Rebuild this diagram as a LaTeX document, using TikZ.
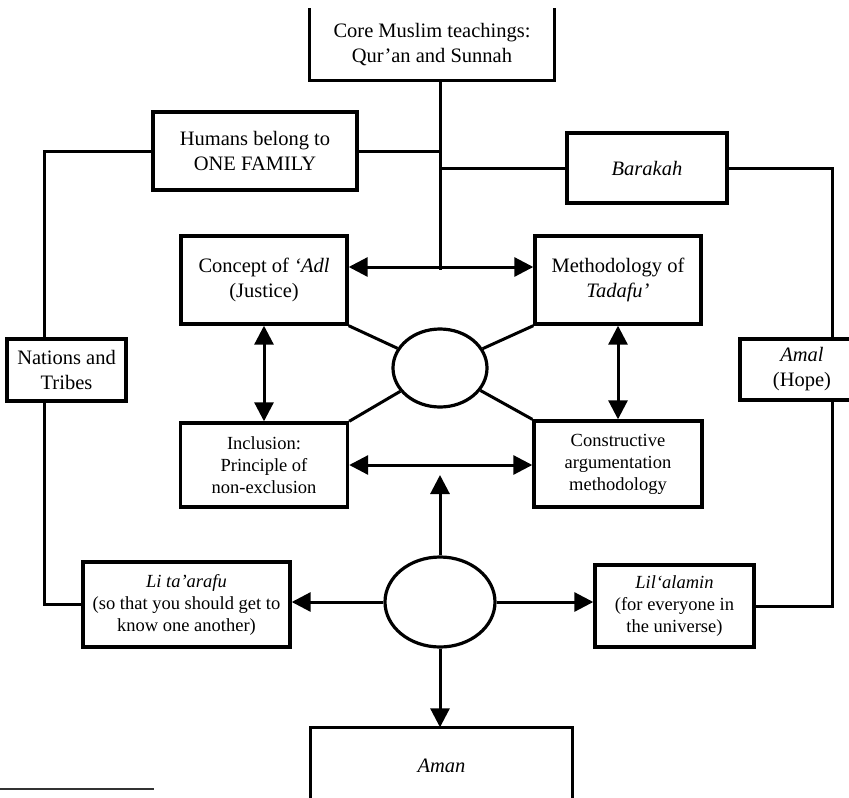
\documentclass[tikz,border=0pt]{standalone}
\usepackage{fontspec}
\setmainfont{Liberation Serif}
\usepackage{tikz}
\usetikzlibrary{arrows.meta}
\usetikzlibrary{shapes.geometric}

\begin{document}
\begin{tikzpicture}[x=1pt, y=-1pt,
	box/.style={line width=3.4pt, align=center, inner sep=0pt, font=\fontsize{20.5}{25}\selectfont},
	smallbox/.style={box, font=\fontsize{18.5}{22}\selectfont},
	oval/.style={draw, ellipse, line width=3.2pt, inner sep=0pt},
	link/.style={line width=3pt},
	arr/.style={link, -{Triangle[length=19pt,width=19pt]}},
	darr/.style={link, {Triangle[length=19pt,width=19pt]}-{Triangle[length=19pt,width=19pt]}}]

	\useasboundingbox (0,0) rectangle (849,798);

	% Boxes top
	\node[box, minimum width=242pt, minimum height=69pt] (core) at (432,44.5) {Core Muslim teachings:\\Qur’an and Sunnah};
	\node[box, draw, minimum width=204pt, minimum height=78pt] (family) at (255,151) {Humans belong to\\ONE FAMILY};
	\node[box, draw, minimum width=160pt, minimum height=70pt] (barakah) at (647,168) {\itshape Barakah};

	% Boxes middle
	\node[box, draw, minimum width=166pt, minimum height=88pt] (adl) at (264,280) {Concept of \textit{‘Adl}\\(Justice)};
	\node[box, draw, minimum width=166pt, minimum height=88pt] (tadafu) at (618,280) {Methodology of\\\textit{Tadafu’}};
	\node[smallbox, draw, minimum width=167pt, minimum height=84pt] (incl) at (264,465) {Inclusion:\\Principle of\\non-exclusion};
	\node[smallbox, draw, minimum width=168pt, minimum height=86pt] (constr) at (618,464) {Constructive\\argumentation\\methodology};
	\node[box, draw, minimum width=119pt, minimum height=62pt] (nations) at (66.5,370) {Nations and\\Tribes};
	\node[box, draw, minimum width=124pt, minimum height=61pt] (amal) at (802,369.5) {\textit{Amal}\\(Hope)};

	% Ovals
	\node[oval, minimum width=94pt, minimum height=78pt] (hub) at (440,368) {};
	\node[oval, minimum width=110pt, minimum height=90pt] (source) at (440,602) {};

	% Boxes bottom
	\node[smallbox, draw, minimum width=207pt, minimum height=85pt] (lita) at (186.5,604.5) {\textit{Li ta’arafu}\\(so that you should get to\\know one another)};
	\node[smallbox, draw, minimum width=159pt, minimum height=82pt] (lil) at (674.5,606) {\textit{Lil‘alamin}\\(for everyone in\\the universe)};
	\node[box, minimum width=259pt, minimum height=74pt] (aman) at (441.5,766) {\itshape Aman};

	% open boxes (cut at the page edge)
	\draw[line width=3.4pt] (core.north west) -- (core.south west) -- (core.south east) -- (core.north east);
	\draw[line width=3.4pt] (aman.south west) -- (aman.north west) -- (aman.north east) -- (aman.south east);

	% Rails
	\coordinate (tj) at (440,270);
	\coordinate (ta) at (440,267);
	\coordinate (lrail) at (44,0);
	\coordinate (rrail) at (832,0);
	\coordinate (up) at (440,475);

	\draw[link] (core.south -| tj) -- (tj);
	\draw[link] (family.east) -- (family.east -| tj);
	\draw[link] (barakah.west) -- (barakah.west -| tj);
	\draw[link] (family.west) -| (lrail |- nations.north);
	\draw[link] (lrail |- nations.south) |- (lita.west);
	\draw[link] (barakah.east) -| (rrail |- amal.north);
	\draw[link] (rrail |- amal.south) |- (lil.east);

	% Spokes
	\draw[link] (adl.south east) -- (hub);
	\draw[link] (tadafu.south west) -- (hub);
	\draw[link] (incl.north east) -- (hub);
	\draw[link] (constr.north west) -- (hub);

	% Arrows
	\draw[arr] (ta) -- (ta -| adl.east);
	\draw[arr] (ta) -- (ta -| tadafu.west);
	\draw[darr] (adl.south) -- (incl.north);
	\draw[darr] (tadafu.south) -- (constr.north);
	\draw[darr] (incl.east) -- (incl.east -| constr.west);
	\draw[arr] (source.north) -- (up);
	\draw[arr] (source.west) -- (source.west -| lita.east);
	\draw[arr] (source.east) -- (source.east -| lil.west);
	\draw[arr] (source.south) -- (source.south |- aman.north);

	% footnote rule
	\draw[line width=2.4pt, black!80] (0,789) -- (154,789);

\end{tikzpicture}
\end{document}
